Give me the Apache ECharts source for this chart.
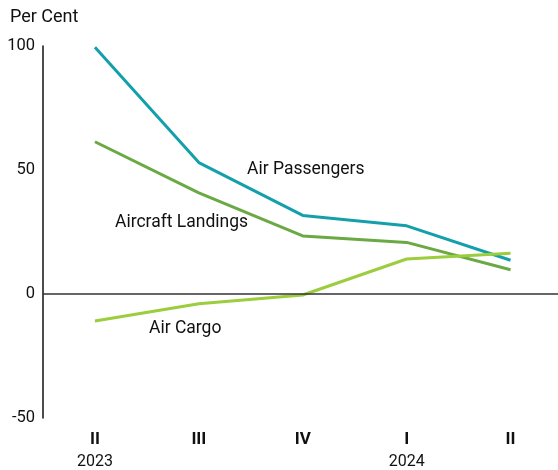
<!DOCTYPE html>
<html>
<head>
<meta charset="utf-8">
<script src="https://cdn.jsdelivr.net/npm/echarts@6/dist/echarts.min.js"></script>
<style>
  html, body { margin: 0; padding: 0; background: #fff; }
  #chart { width: 558px; height: 470px; }
</style>
</head>
<body>
<div id="chart"></div>
<script>
const quarters = ["II", "III", "IV", "I", "II"];
const years = ["2023", "", "", "2024", ""];
const yTicks = [-50, 0, 50, 100];

const airPassengers = [99.5, 53, 31.7, 27.5, 13.6];
const aircraftLandings = [61.4, 40.8, 23.4, 20.8, 9.8];
const airCargo = [-10.9, -3.9, -0.4, 14.1, 16.4];

const font = "Roboto, 'DejaVu Sans', sans-serif";

const chart = echarts.init(document.getElementById("chart"), null, { renderer: "canvas" });

const line = (name, data, color) => ({
  name,
  type: "line",
  data,
  symbol: "none",
  lineStyle: { color, width: 3 },
  itemStyle: { color },
  animation: false,
  z: 3,
});

// series labels sit inside the plot, positioned as in the source figure
const label = (text, x, y, size) => ({
  type: "text",
  x,
  y,
  style: { text, font: (size || 17.5) + "px " + font, fill: "#111", textVerticalAlign: "middle" },
});

chart.setOption({
  backgroundColor: "#fff",
  animation: false,
  grid: { left: 43, top: 46, right: -4.5, bottom: 52, containLabel: false, outerBoundsMode: "none" },
  xAxis: {
    type: "category",
    data: quarters.map((q, i) => q + "\n" + years[i]),
    boundaryGap: true,
    axisLine: { show: false },
    axisTick: { show: false },
    axisLabel: {
      margin: 10,
      formatter: (v) => {
        const [q, y] = v.split("\n");
        return "{q|" + q + "}\n{y|" + (y || " ") + "}";
      },
      rich: {
        q: { fontFamily: font, fontWeight: "bold", fontSize: 17, color: "#111", lineHeight: 24 },
        y: { fontFamily: font, fontSize: 16, color: "#111", lineHeight: 20 },
      },
    },
  },
  yAxis: {
    type: "value",
    min: yTicks[0],
    max: yTicks[yTicks.length - 1],
    interval: 50,
    axisLine: { show: true, lineStyle: { color: "#111", width: 1.5 } },
    axisTick: { show: false },
    splitLine: { show: false },
    axisLabel: { fontFamily: font, fontSize: 16.5, color: "#111", margin: 8, padding: [4, 0, 0, 0] },
  },
  graphic: [
    label("Per Cent", 10, 17, 18),
    label("Air Passengers", 247, 170),
    label("Aircraft Landings", 115, 223),
    label("Air Cargo", 149, 329),
  ],
  series: [
    {
      type: "line",
      data: [],
      markLine: {
        silent: true,
        symbol: "none",
        label: { show: false },
        lineStyle: { color: "#333", width: 1.5, type: "solid" },
        data: [{ yAxis: 0 }],
      },
    },
    line("Air Passengers", airPassengers, "#14a0ab"),
    line("Aircraft Landings", aircraftLandings, "#6aa943"),
    line("Air Cargo", airCargo, "#9bcd3c"),
  ],
});
</script>
</body>
</html>
